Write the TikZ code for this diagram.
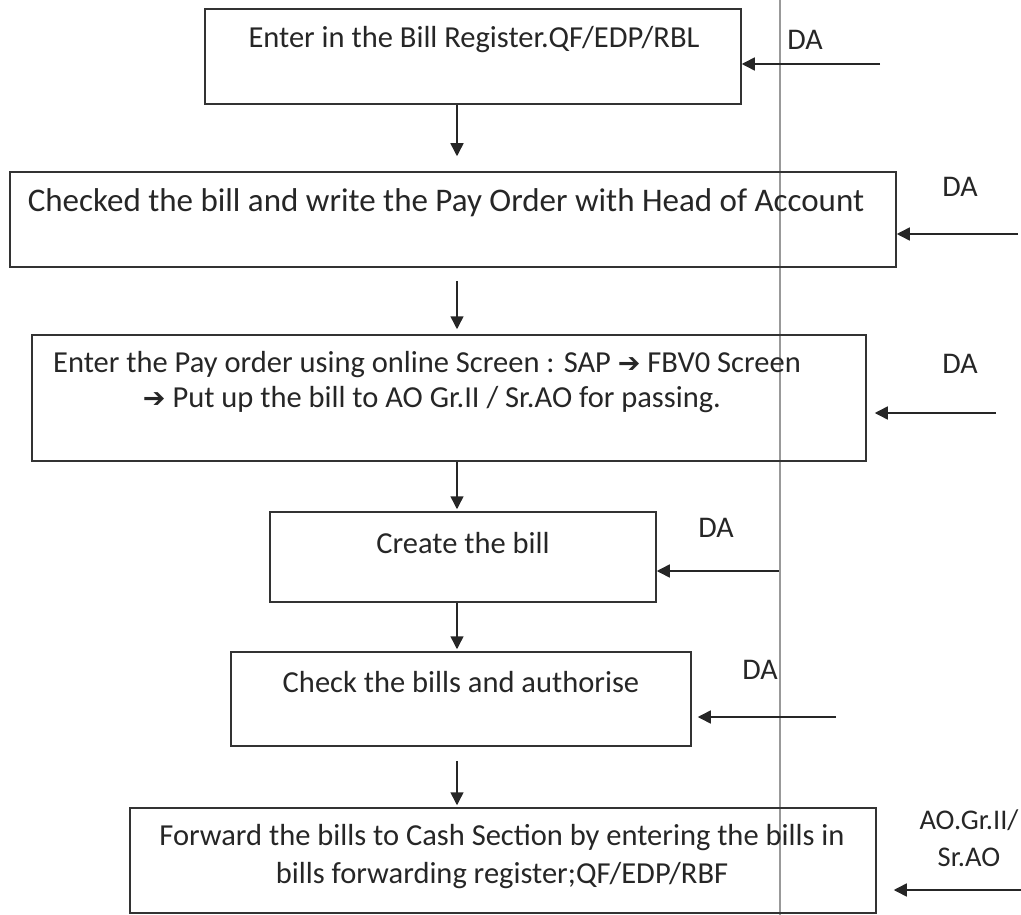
\documentclass[tikz,border=0pt]{standalone}
\usepackage{fontspec}
\setmainfont{Carlito}
\newfontfamily\symfont{DejaVu Sans}
\newcommand{\harrow}{{\symfont\fontsize{27}{35}\selectfont ➔}}
\usetikzlibrary{arrows.meta,calc}
\begin{document}
\begin{tikzpicture}[x=1pt,y=1pt,
  box/.style={draw=black!80, line width=1.5pt, minimum width=#1, inner sep=0pt},
  txt/.style={font=\fontsize{30.5}{35}\selectfont, text=black!85, inner sep=0pt, align=center},
  lbl/.style={font=\fontsize{30}{37}\selectfont, text=black!85, inner sep=0pt, align=center},
  arr/.style={draw=black!85, line width=1.5pt, -{Triangle[length=13pt,width=13pt]}}]
\useasboundingbox (0,0) rectangle (1021,-915);
\clip (0,0) rectangle (1021,-915);
% grey vertical line
\draw[black!40, line width=1.2pt] (780,0) -- (780,-915);
% boxes
\node[box=536pt, minimum height=95pt] (b1) at (473,-56.5) {};
\node[box=886pt, minimum height=95pt] (b2) at (453,-219.5) {};
\node[box=834pt, minimum height=126pt] (b3) at (449,-398) {};
\node[box=386pt, minimum height=90pt] (b4) at (463,-557) {};
\node[box=460pt, minimum height=94pt] (b5) at (461,-699) {};
\node[box=746pt, minimum height=105pt] (b6) at (503,-860.5) {};
% texts
\node[txt] (t1) at (474,-40) {Enter in the Bill Register.QF/EDP/RBL};
\node[txt, font=\fontsize{33}{38}\selectfont] (t2) at (446,-203) {Checked the bill and write the Pay Order with Head of Account};
\node[txt] (t3a) at (427,-365) {Enter the Pay order using online Screen : SAP \harrow{} FBV0 Screen};
\node[txt] (t3b) at (432,-400) {\harrow{} Put up the bill to AO Gr.II / Sr.AO for passing.};
\node[txt] (t4) at (463,-543) {Create the bill};
\node[txt] (t5) at (461,-682) {Check the bills and authorise};
\node[txt, font=\fontsize{30.5}{38}\selectfont] (t6) at (502,-857) {Forward the bills to Cash Section by entering the bills in\\bills forwarding register;QF/EDP/RBF};
% actor labels
\node[lbl] (l1) at (805,-40) {DA};
\node[lbl] (l2) at (960,-187) {DA};
\node[lbl] (l3) at (960,-364) {DA};
\node[lbl] (l4) at (716,-528) {DA};
\node[lbl] (l5) at (760,-670) {DA};
\node[lbl, font=\fontsize{28.5}{37}\selectfont] (l6) at (969,-838) {AO.Gr.II/\\Sr.AO};
% vertical flow arrows
\coordinate (ax) at (457,0);
\draw[arr, shorten >=15pt] (b1.south -| ax) -- (b2.north -| ax);
\draw[arr, shorten <=13pt, shorten >=5pt] (b2.south -| ax) -- (b3.north -| ax);
\draw[arr, shorten >=2pt] (b3.south -| ax) -- (b4.north -| ax);
\draw[arr, shorten >=2pt] (b4.south -| ax) -- (b5.north -| ax);
\draw[arr, shorten <=14pt, shorten >=2pt] (b5.south -| ax) -- (b6.north -| ax);
% incoming actor arrows
\coordinate (s1) at (880,-64);
\coordinate (s2) at (1018,-234);
\coordinate (s3) at (996,-413);
\coordinate (s4) at (779,-571);
\coordinate (s5) at (836,-717);
\coordinate (s6) at (1025,-890);
\draw[arr] (s1) -- (s1 -| b1.east);
\draw[arr] (s2) -- (s2 -| b2.east);
\draw[arr, shorten >=8pt] (s3) -- (s3 -| b3.east);
\draw[arr] (s4) -- (s4 -| b4.east);
\draw[arr, shorten >=6pt] (s5) -- (s5 -| b5.east);
\draw[arr, shorten >=17pt] (s6) -- (s6 -| b6.east);
\end{tikzpicture}
\end{document}
